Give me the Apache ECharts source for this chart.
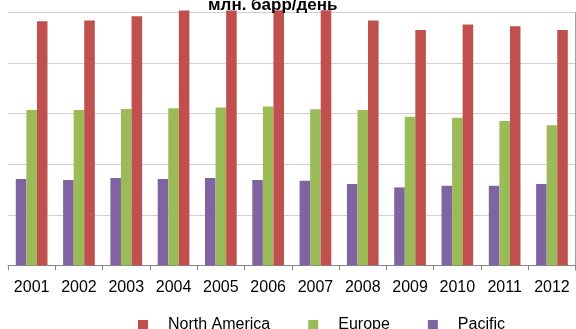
<!DOCTYPE html>
<html style="height: 100%">
<head>
  <meta charset="utf-8">
</head>
<body style="height: 100%; margin: 0; background: #fff">
  <div id="container" style="width: 576px; height: 329px"></div>
  <script src="https://cdn.jsdelivr.net/npm/echarts@6/dist/echarts.min.js"></script>
  <script>
    // years and consumption values, mb/d
    var years = ['2001', '2002', '2003', '2004', '2005', '2006', '2007', '2008', '2009', '2010', '2011', '2012'];
    var northAmerica = [24.16, 24.22, 24.65, 25.21, 25.21, 25.25, 25.25, 24.22, 23.3, 23.82, 23.66, 23.3];
    var europe = [15.38, 15.38, 15.48, 15.54, 15.61, 15.71, 15.45, 15.38, 14.71, 14.61, 14.28, 13.85];
    var pacific = [8.54, 8.44, 8.64, 8.54, 8.64, 8.44, 8.37, 8.05, 7.71, 7.87, 7.87, 8.05];

    var myChart = echarts.init(document.getElementById('container'), null, { renderer: 'canvas' });

    var font = 'Liberation Sans, Arial, sans-serif';

    var option = {
      animation: false,
      title: {
        text: 'млн. барр/день',
        left: 203,
        top: -8,
        textStyle: { fontFamily: font, fontSize: 17, fontWeight: 'bold', color: '#000' }
      },
      legend: {
        data: ['North America', 'Europe', 'Pacific'],
        left: 133,
        top: 312,
        icon: 'rect',
        itemWidth: 10,
        itemHeight: 10,
        itemGap: 38,
        textStyle: { fontFamily: font, fontSize: 16, color: '#000', padding: [0, 0, 0, 15] }
      },
      grid: {
        left: 8,
        right: 0.4,
        top: 12.7,
        bottom: 63.7,
        containLabel: false
      },
      xAxis: {
        type: 'category',
        data: years,
        axisLine: { lineStyle: { color: '#868686', width: 1 } },
        axisTick: { show: true, length: 5, lineStyle: { color: '#868686' } },
        axisLabel: { fontFamily: font, fontSize: 16, color: '#000', margin: 14 }
      },
      yAxis: [
        {
          type: 'value',
          min: 0,
          max: 25,
          interval: 5,
          axisLabel: { show: false },
          axisLine: { show: false },
          axisTick: { show: false },
          splitLine: { lineStyle: { color: '#D0D0D0', width: 1 } }
        },
        {
          type: 'value',
          position: 'right',
          min: 0,
          max: 25,
          interval: 5,
          axisLabel: { show: false },
          axisLine: { show: true, lineStyle: { color: '#A0A0A0' } },
          axisTick: { show: false },
          splitLine: { show: false }
        }
      ],
      series: [
        {
          name: 'Pacific',
          type: 'bar',
          data: pacific,
          clip: false,
          barGap: '0%',
          barCategoryGap: '33%',
          itemStyle: { color: '#8064A2' }
        },
        {
          name: 'Europe',
          type: 'bar',
          data: europe,
          clip: false,
          itemStyle: { color: '#9BBB59' }
        },
        {
          name: 'North America',
          type: 'bar',
          data: northAmerica,
          clip: false,
          itemStyle: { color: '#C0504D' }
        }
      ]
    };

    myChart.setOption(option);
    window.addEventListener('resize', myChart.resize);
  </script>
</body>
</html>
